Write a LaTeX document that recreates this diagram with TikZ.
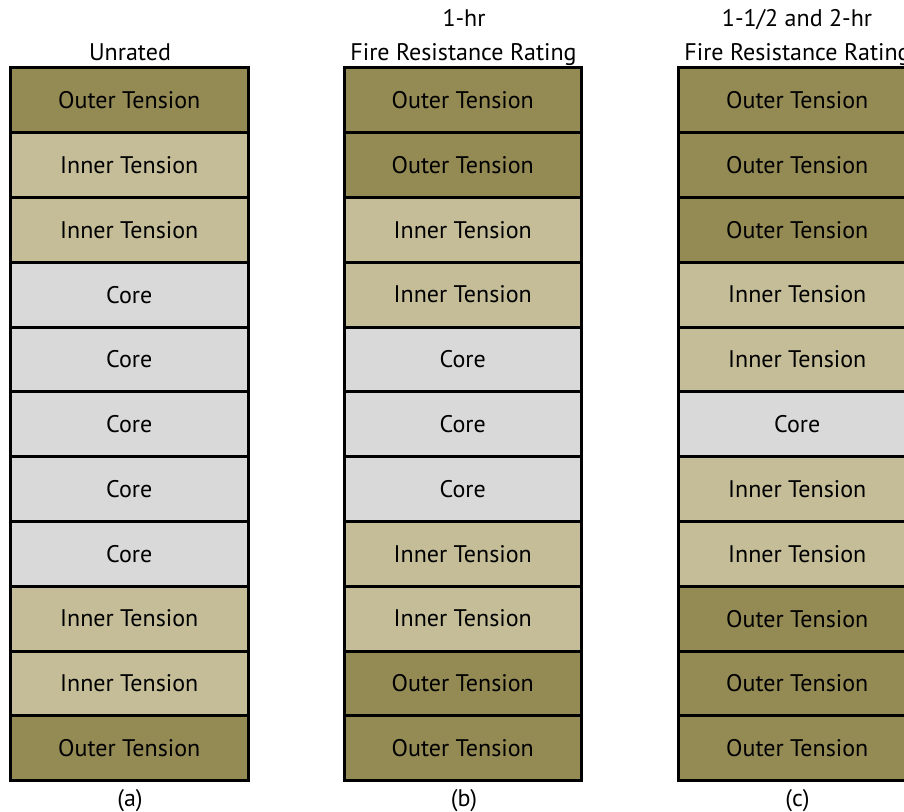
\documentclass[tikz,border=0pt]{standalone}
\usepackage{fontspec}
\setmainfont{PT Sans}
\definecolor{outerc}{HTML}{948A54}
\definecolor{innerc}{HTML}{C4BD97}
\definecolor{corec}{HTML}{D9D9D9}
\tikzset{
  layer/.style={draw=black, line width=3pt, minimum width=237.5pt, minimum height=64.8pt, inner sep=0pt, outer sep=0pt, anchor=north west, font=\fontsize{24}{27}\selectfont, text=black},
  outer/.style={layer, fill=outerc},
  inner/.style={layer, fill=innerc},
  core/.style={layer, fill=corec},
  head/.style={font=\fontsize{24}{27}\selectfont, anchor=base, text=black},
}
\newcommand{\lyrO}[3]{\node[outer] (#1) at (#2,67.8+#3*64.8) {Outer Tension};}
\newcommand{\lyrI}[3]{\node[inner] (#1) at (#2,67.8+#3*64.8) {Inner Tension};}
\newcommand{\lyrC}[3]{\node[core] (#1) at (#2,67.8+#3*64.8) {Core};}
\begin{document}
\begin{tikzpicture}[x=1pt,y=-1pt]
\path[use as bounding box] (0,0) rectangle (904,811);
\begin{scope}
\clip (-4,-4) rectangle (906,815);
\fill[white] (-4,-4) rectangle (906,815);
% column a
\lyrO{a0}{10.5}{0}
\lyrI{a1}{10.5}{1}
\lyrI{a2}{10.5}{2}
\lyrC{a3}{10.5}{3}
\lyrC{a4}{10.5}{4}
\lyrC{a5}{10.5}{5}
\lyrC{a6}{10.5}{6}
\lyrC{a7}{10.5}{7}
\lyrI{a8}{10.5}{8}
\lyrI{a9}{10.5}{9}
\lyrO{a10}{10.5}{10}
% column b
\lyrO{b0}{344}{0}
\lyrO{b1}{344}{1}
\lyrI{b2}{344}{2}
\lyrI{b3}{344}{3}
\lyrC{b4}{344}{4}
\lyrC{b5}{344}{5}
\lyrC{b6}{344}{6}
\lyrI{b7}{344}{7}
\lyrI{b8}{344}{8}
\lyrO{b9}{344}{9}
\lyrO{b10}{344}{10}
% column c
\lyrO{c0}{678.5}{0}
\lyrO{c1}{678.5}{1}
\lyrO{c2}{678.5}{2}
\lyrI{c3}{678.5}{3}
\lyrI{c4}{678.5}{4}
\lyrC{c5}{678.5}{5}
\lyrI{c6}{678.5}{6}
\lyrI{c7}{678.5}{7}
\lyrO{c8}{678.5}{8}
\lyrO{c9}{678.5}{9}
\lyrO{c10}{678.5}{10}
% headings
\node[head] (ha) at (130,60) {Unrated};
\node[head] (hb1) at (464,27) {1-hr};
\node[head] (hb2) at (463.5,60) {Fire Resistance Rating};
\node[head] (hc1) at (797,27) {1-1/2 and 2-hr};
\node[head] (hc2) at (797.5,60) {Fire Resistance Rating};
% captions
\node[head] (la) at (130,806) {(a)};
\node[head] (lb) at (464,806) {(b)};
\node[head] (lc) at (797.5,806) {(c)};
\end{scope}
\end{tikzpicture}
\end{document}
